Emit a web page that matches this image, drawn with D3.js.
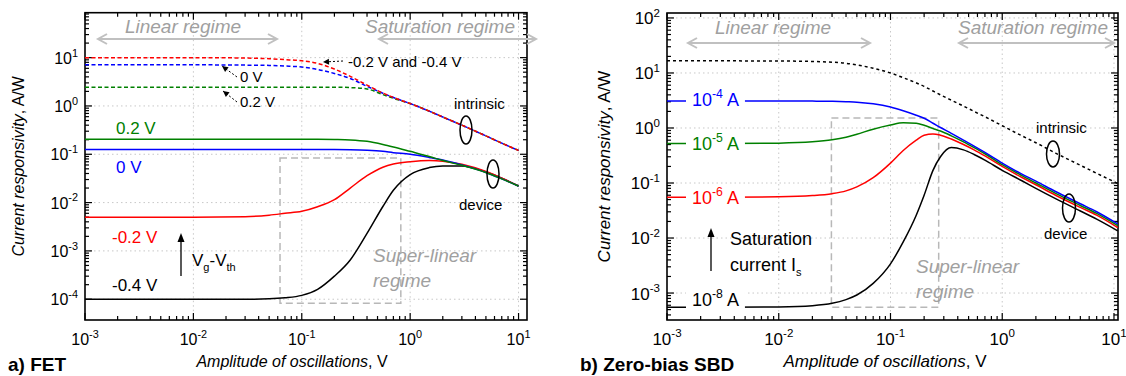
<!DOCTYPE html>
<html><head><meta charset="utf-8">
<script src="https://cdn.jsdelivr.net/npm/d3@7"></script>
<style>
html,body{margin:0;padding:0;background:#fff;}
svg text{font-family:"Liberation Sans",Arial,sans-serif;}
</style>
</head><body>
<svg id="chart" width="1126" height="376"></svg>
<script>
// ---------------- DATA ----------------
const xTicks = [1e-3, 1e-2, 1e-1, 1, 10];
const xTickExp = ["-3", "-2", "-1", "0", "1"];
const yTicksL = [1e-4, 1e-3, 1e-2, 1e-1, 1, 10];
const yTickExpL = ["-4", "-3", "-2", "-1", "0", "1"];
const yTicksR = [1e-3, 1e-2, 1e-1, 1, 10, 100];
const yTickExpR = ["-3", "-2", "-1", "0", "1", "2"];

// Panel a) FET — amplitude (V)
const xA = [0.001, 0.003, 0.01, 0.03, 0.05, 0.07, 0.1, 0.14, 0.2, 0.28, 0.4, 0.56, 0.7, 1, 1.5, 2, 3, 5, 7, 10];
// intrinsic (dashed)
const intrA_m02 = [10, 10, 10, 9.8, 9.5, 9.1, 8.6, 7.6, 5.8, 4.1, 2.7, 1.85, 1.5, 1.12, 0.78, 0.59, 0.40, 0.24, 0.17, 0.12];
const intrA_0V  = [7.1, 7.1, 7.1, 7.0, 6.9, 6.7, 6.4, 5.7, 4.7, 3.7, 2.55, 1.83, 1.5, 1.12, 0.78, 0.59, 0.40, 0.24, 0.17, 0.12];
const intrA_p02 = [2.45, 2.45, 2.45, 2.45, 2.45, 2.45, 2.45, 2.45, 2.45, 2.4, 2.25, 1.72, 1.44, 1.12, 0.78, 0.59, 0.40, 0.24, 0.17, 0.12];
// device (solid)
const devA_p02 = [0.204, 0.204, 0.204, 0.204, 0.204, 0.204, 0.204, 0.204, 0.202, 0.198, 0.185, 0.16, 0.142, 0.115, 0.09, 0.074, 0.059, 0.042, 0.031, 0.022];
const devA_0V  = [0.125, 0.125, 0.125, 0.125, 0.125, 0.125, 0.125, 0.125, 0.125, 0.124, 0.121, 0.115, 0.108, 0.1, 0.086, 0.076, 0.06, 0.042, 0.031, 0.022];
const devA_m02 = [0.005, 0.005, 0.005, 0.0051, 0.0055, 0.006, 0.0066, 0.0082, 0.0115, 0.02, 0.036, 0.054, 0.063, 0.07, 0.074, 0.072, 0.062, 0.044, 0.032, 0.022];
const devA_m04 = [1e-4, 1e-4, 1e-4, 1e-4, 1.02e-4, 1.07e-4, 1.2e-4, 1.6e-4, 3e-4, 6.5e-4, 2.3e-3, 8.3e-3, 0.018, 0.038, 0.053, 0.057, 0.057, 0.043, 0.032, 0.022];

// Panel b) Zero-bias SBD
const xB = [0.001, 0.003, 0.01, 0.02, 0.03, 0.04, 0.05, 0.07, 0.1, 0.13, 0.17, 0.2, 0.24, 0.28, 0.35, 0.45, 0.56, 0.7, 1, 1.5, 2, 3, 5, 7, 10.8];
const intrB    = [16.6, 16.6, 16.5, 16.2, 15.7, 15.0, 14.0, 12.2, 10.0, 8.2, 6.6, 5.7, 4.7, 4.0, 3.2, 2.5, 2.0, 1.6, 1.1, 0.72, 0.54, 0.35, 0.21, 0.15, 0.098];
const devB_e4  = [3.1, 3.1, 3.1, 3.08, 3.05, 3.0, 2.95, 2.75, 2.4, 2.05, 1.7, 1.5, 1.22, 1.02, 0.8, 0.6, 0.47, 0.36, 0.23, 0.145, 0.108, 0.07, 0.042, 0.03, 0.018];
const devB_e5  = [0.52, 0.52, 0.53, 0.56, 0.61, 0.68, 0.77, 0.95, 1.13, 1.24, 1.22, 1.12, 0.98, 0.88, 0.72, 0.56, 0.44, 0.34, 0.215, 0.136, 0.1, 0.065, 0.039, 0.028, 0.0168];
const devB_e6  = [0.055, 0.055, 0.056, 0.059, 0.064, 0.072, 0.085, 0.125, 0.23, 0.39, 0.6, 0.74, 0.78, 0.74, 0.63, 0.5, 0.4, 0.31, 0.2, 0.126, 0.093, 0.06, 0.036, 0.026, 0.0155];
const devB_e8  = [5.5e-4, 5.5e-4, 5.6e-4, 5.9e-4, 6.5e-4, 7.6e-4, 9.2e-4, 1.5e-3, 3.4e-3, 8.5e-3, 0.026, 0.06, 0.17, 0.3, 0.44, 0.4, 0.33, 0.26, 0.17, 0.11, 0.08, 0.052, 0.031, 0.022, 0.0135];

// gray dashed "super-linear" boxes [x1,x2,y1,y2]
const boxA = [0.063, 0.82, 8.3e-5, 0.084];
const boxB = [0.0296, 0.27, 5.5e-4, 1.52];

// ---------------- DRAW ----------------
const svg = d3.select("#chart");
const RED = "#ff0000", BLUE = "#0000ff", GREEN = "#008000", GRAY = "#a0a0a0", LGRAY = "#c0c0c0";

function makePanel(cfg) {
  const g = svg.append("g");
  const x = d3.scaleLog().domain(cfg.xDom).range([cfg.x0, cfg.x1]);
  const y = d3.scaleLog().domain(cfg.yDom).range([cfg.y1, cfg.y0]);
  xTicks.forEach(t => { if (x(t) > cfg.x0 + 1 && x(t) < cfg.x1 - 1)
    g.append("line").attr("x1", x(t)).attr("x2", x(t)).attr("y1", cfg.y0).attr("y2", cfg.y1)
      .attr("stroke", "#c8c8c8").attr("stroke-width", 1).attr("stroke-dasharray", "1.5,3"); });
  cfg.yTicks.forEach(t => { if (y(t) > cfg.y0 + 1 && y(t) < cfg.y1 - 1)
    g.append("line").attr("x1", cfg.x0).attr("x2", cfg.x1).attr("y1", y(t)).attr("y2", y(t))
      .attr("stroke", "#c8c8c8").attr("stroke-width", 1).attr("stroke-dasharray", "1.5,3"); });
  const majLen = 7, minLen = 4;
  const xMinor = [], yMinor = [];
  for (let e = -4; e <= 2; e++) for (let m = 2; m <= 9; m++) {
    const v = m * Math.pow(10, e);
    if (v > cfg.xDom[0] && v < cfg.xDom[1]) xMinor.push(v);
    if (v > cfg.yDom[0] && v < cfg.yDom[1]) yMinor.push(v);
  }
  const tk = g.append("g").attr("stroke", "#000").attr("stroke-width", 1.2);
  xTicks.forEach(t => { const px = x(t);
    tk.append("line").attr("x1", px).attr("x2", px).attr("y1", cfg.y1).attr("y2", cfg.y1 - majLen);
    tk.append("line").attr("x1", px).attr("x2", px).attr("y1", cfg.y0).attr("y2", cfg.y0 + majLen); });
  xMinor.forEach(t => { const px = x(t);
    tk.append("line").attr("x1", px).attr("x2", px).attr("y1", cfg.y1).attr("y2", cfg.y1 - minLen);
    tk.append("line").attr("x1", px).attr("x2", px).attr("y1", cfg.y0).attr("y2", cfg.y0 + minLen); });
  cfg.yTicks.forEach(t => { const py = y(t);
    tk.append("line").attr("x1", cfg.x0).attr("x2", cfg.x0 + majLen).attr("y1", py).attr("y2", py);
    tk.append("line").attr("x1", cfg.x1).attr("x2", cfg.x1 - majLen).attr("y1", py).attr("y2", py); });
  yMinor.forEach(t => { const py = y(t);
    tk.append("line").attr("x1", cfg.x0).attr("x2", cfg.x0 + minLen).attr("y1", py).attr("y2", py);
    tk.append("line").attr("x1", cfg.x1).attr("x2", cfg.x1 - minLen).attr("y1", py).attr("y2", py); });
  g.append("rect").attr("x", cfg.x0).attr("y", cfg.y0).attr("width", cfg.x1 - cfg.x0).attr("height", cfg.y1 - cfg.y0)
    .attr("fill", "none").attr("stroke", "#000").attr("stroke-width", 1.6);
  xTicks.forEach((t, i) => {
    const tx = g.append("text").attr("x", x(t)).attr("y", cfg.y1 + 25).attr("text-anchor", "middle")
      .attr("font-size", cfg.tickFs).attr("fill", "#000");
    tx.append("tspan").text("10");
    tx.append("tspan").attr("dy", -cfg.tickFs * 0.45).attr("font-size", cfg.tickFs * 0.68).text(xTickExp[i]);
  });
  cfg.yTicks.forEach((t, i) => {
    const tx = g.append("text").attr("x", cfg.x0 - 7).attr("y", y(t) + cfg.tickFs * 0.38).attr("text-anchor", "end")
      .attr("font-size", cfg.tickFs).attr("fill", "#000");
    tx.append("tspan").text("10");
    tx.append("tspan").attr("dy", -cfg.tickFs * 0.45).attr("font-size", cfg.tickFs * 0.68).text(cfg.yTickExp[i]);
  });
  const xt = g.append("text").attr("x", cfg.xTitleX).attr("y", 367).attr("text-anchor", "middle").attr("font-size", cfg.titleFs);
  xt.append("tspan").attr("font-style", "italic").text("Amplitude of oscillations");
  xt.append("tspan").text(", V");
  const yt = g.append("text").attr("transform", `translate(${cfg.yTitleX},${(cfg.y0 + cfg.y1) / 2}) rotate(-90)`)
    .attr("text-anchor", "middle").attr("font-size", cfg.titleFs);
  yt.append("tspan").attr("font-style", "italic").text("Current responsivity");
  yt.append("tspan").text(", A/W");
  g.append("text").attr("x", cfg.labelX).attr("y", 371).attr("font-size", cfg.labelFs).attr("font-weight", "bold").text(cfg.label);
  return { g, x, y };
}

function curve(p, xs, ys, color, dash, width) {
  const line = d3.line().x(d => p.x(d[0])).y(d => p.y(d[1])).curve(d3.curveMonotoneX);
  p.g.append("path").datum(xs.map((v, i) => [v, ys[i]])).attr("d", line)
    .attr("fill", "none").attr("stroke", color).attr("stroke-width", width || 1.5)
    .attr("stroke-dasharray", dash || null);
}

function box(p, b) {
  p.g.append("rect").attr("x", p.x(b[0])).attr("y", p.y(b[3])).attr("width", p.x(b[1]) - p.x(b[0]))
    .attr("height", p.y(b[2]) - p.y(b[3])).attr("fill", "none").attr("stroke", "#b8b8b8")
    .attr("stroke-width", 1.5).attr("stroke-dasharray", "7,4");
}

function regimeArrow(g, x1, x2, yy) {
  const a = g.append("g").attr("stroke", LGRAY).attr("stroke-width", 2).attr("fill", "none");
  a.append("line").attr("x1", x1).attr("x2", x2).attr("y1", yy).attr("y2", yy);
  a.append("path").attr("d", `M${x1 + 9},${yy - 5} L${x1},${yy} L${x1 + 9},${yy + 5}`);
  a.append("path").attr("d", `M${x2 - 9},${yy - 5} L${x2},${yy} L${x2 - 9},${yy + 5}`);
}

function txt(g, x, yy, s, opt) {
  opt = opt || {};
  return g.append("text").attr("x", x).attr("y", yy).attr("font-size", opt.fs || 16)
    .attr("fill", opt.color || "#000").attr("font-style", opt.italic ? "italic" : null)
    .attr("text-anchor", opt.anchor || "start").text(s);
}

function supLabel(g, x, yy, base, exp, tail, color, fs, bg) {
  const t = g.append("text").attr("x", x).attr("y", yy).attr("font-size", fs).attr("fill", color);
  t.append("tspan").text(base);
  t.append("tspan").attr("dy", -fs * 0.45).attr("font-size", fs * 0.68).text(exp);
  t.append("tspan").attr("dy", fs * 0.45).text(tail);
  if (bg) {
    const bb = t.node().getBBox();
    g.insert("rect", function () { return t.node(); }).attr("x", bb.x - 6).attr("y", bb.y + 2)
      .attr("width", bb.width + 12).attr("height", bb.height - 4).attr("fill", "#fff");
  }
  return t;
}

function dotArrow(g, x1, y1, x2, y2) {
  g.append("line").attr("x1", x1).attr("y1", y1).attr("x2", x2).attr("y2", y2)
    .attr("stroke", "#000").attr("stroke-width", 1).attr("stroke-dasharray", "2,2");
  const ang = Math.atan2(y2 - y1, x2 - x1), L = 6, w = 3;
  const bx = x2 - L * Math.cos(ang), by = y2 - L * Math.sin(ang);
  g.append("path").attr("d", `M${x2},${y2} L${bx - w * Math.sin(ang)},${by + w * Math.cos(ang)} L${bx + w * Math.sin(ang)},${by - w * Math.cos(ang)} Z`)
    .attr("fill", "#000");
}

function upArrow(g, x, y1, y2) {
  g.append("line").attr("x1", x).attr("x2", x).attr("y1", y1).attr("y2", y2 + 6).attr("stroke", "#000").attr("stroke-width", 1.3);
  g.append("path").attr("d", `M${x},${y2} L${x - 3.5},${y2 + 9} L${x + 3.5},${y2 + 9} Z`).attr("fill", "#000");
}

function ellipse(g, cx, cy, rx, ry) {
  g.append("ellipse").attr("cx", cx).attr("cy", cy).attr("rx", rx).attr("ry", ry)
    .attr("fill", "none").attr("stroke", "#000").attr("stroke-width", 1.5);
}

// ----- Panel a -----
const A = makePanel({
  x0: 85, x1: 527, y0: 12.7, y1: 320,
  xDom: [1e-3, Math.pow(10, 1.078)], yDom: [Math.pow(10, -4.43), Math.pow(10, 1.93)],
  yTicks: yTicksL, yTickExp: yTickExpL, tickFs: 16, titleFs: 16,
  xTitleX: 292, yTitleX: 24, label: "a) FET", labelX: 8, labelFs: 19
});
regimeArrow(A.g, 98, 277, 39);
regimeArrow(A.g, 379, 536, 39);
txt(A.g, 183, 33, "Linear regime", { fs: 19, italic: true, color: GRAY, anchor: "middle" });
txt(A.g, 440, 33, "Saturation regime", { fs: 19, italic: true, color: GRAY, anchor: "middle" });
box(A, boxA);
curve(A, xA, devA_m04, "#000");
curve(A, xA, devA_m02, RED);
curve(A, xA, devA_0V, BLUE);
curve(A, xA, devA_p02, GREEN);
curve(A, xA, intrA_p02, GREEN, "4,2.5");
curve(A, xA, intrA_0V, BLUE, "4,2.5");
curve(A, xA, intrA_m02, RED, "4,2.5");
txt(A.g, 116, 134, "0.2 V", { fs: 17, color: GREEN });
txt(A.g, 116, 173, "0 V", { fs: 17, color: BLUE });
txt(A.g, 112, 243, "-0.2 V", { fs: 17, color: RED });
txt(A.g, 112, 291, "-0.4 V", { fs: 17 });
upArrow(A.g, 181, 276, 233);
const vg = A.g.append("text").attr("x", 192).attr("y", 266).attr("font-size", 17);
vg.append("tspan").text("V");
vg.append("tspan").attr("dy", 5).attr("font-size", 11).text("g");
vg.append("tspan").attr("dy", -5).text("-V");
vg.append("tspan").attr("dy", 5).attr("font-size", 11).text("th");
txt(A.g, 373, 262, "Super-linear", { fs: 19, italic: true, color: GRAY });
txt(A.g, 373, 287, "regime", { fs: 19, italic: true, color: GRAY });
txt(A.g, 348, 67, "-0.2 V and -0.4 V", { fs: 15 });
dotArrow(A.g, 343, 61, 323, 62);
txt(A.g, 240, 82, "0 V", { fs: 15 });
dotArrow(A.g, 237, 77, 222, 66);
txt(A.g, 240, 107, "0.2 V", { fs: 15 });
dotArrow(A.g, 237, 102, 223, 91);
txt(A.g, 454, 109, "intrinsic", { fs: 15 });
ellipse(A.g, 466, 130, 6, 14);
txt(A.g, 459, 210, "device", { fs: 15 });
ellipse(A.g, 493, 174, 6, 14);

// ----- Panel b -----
const B = makePanel({
  x0: 667, x1: 1118, y0: 13, y1: 320,
  xDom: [1e-3, Math.pow(10, 1.036)], yDom: [Math.pow(10, -3.49), Math.pow(10, 2.09)],
  yTicks: yTicksR, yTickExp: yTickExpR, tickFs: 17, titleFs: 17,
  xTitleX: 885, yTitleX: 610, label: "b) Zero-bias SBD", labelX: 580, labelFs: 19
});
regimeArrow(B.g, 688, 870, 43);
regimeArrow(B.g, 959, 1114, 43);
txt(B.g, 773, 34, "Linear regime", { fs: 19, italic: true, color: GRAY, anchor: "middle" });
txt(B.g, 1033, 34, "Saturation regime", { fs: 19, italic: true, color: GRAY, anchor: "middle" });
box(B, boxB);
curve(B, xB, intrB, "#000", "3,3");
curve(B, xB, devB_e8, "#000");
curve(B, xB, devB_e6, RED);
curve(B, xB, devB_e5, GREEN);
curve(B, xB, devB_e4, BLUE);
supLabel(B.g, 692, 106, "10", "-4", " A", BLUE, 18, true);
supLabel(B.g, 692, 150, "10", "-5", " A", GREEN, 18, true);
supLabel(B.g, 692, 204, "10", "-6", " A", RED, 18, true);
supLabel(B.g, 692, 306, "10", "-8", " A", "#000", 18, true);
upArrow(B.g, 711, 271, 228);
txt(B.g, 730, 245, "Saturation", { fs: 18 });
const cs = B.g.append("text").attr("x", 730).attr("y", 271).attr("font-size", 18);
cs.append("tspan").text("current I");
cs.append("tspan").attr("dy", 5).attr("font-size", 11).text("s");
txt(B.g, 916, 273, "Super-linear", { fs: 19, italic: true, color: GRAY });
txt(B.g, 916, 298, "regime", { fs: 19, italic: true, color: GRAY });
txt(B.g, 1036, 133, "intrinsic", { fs: 15 });
ellipse(B.g, 1053, 154, 6.5, 13);
txt(B.g, 1044, 239, "device", { fs: 15 });
ellipse(B.g, 1069, 208, 6.5, 14);
</script>
</body></html>
